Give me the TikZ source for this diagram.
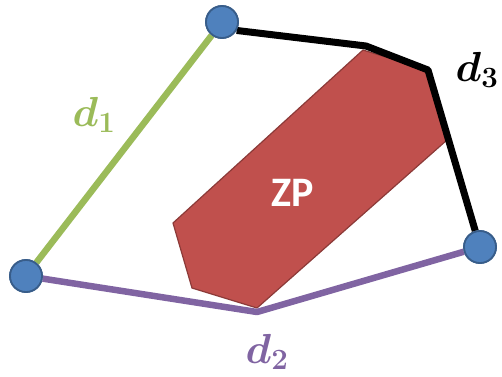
\RequirePackage{fix-cm}
\documentclass[tikz,border=0pt]{standalone}
\usepackage{fontspec}
\usepackage{amsmath,bm}
\setsansfont{Carlito}
\definecolor{zonered}{HTML}{C0504D}
\definecolor{zoneedge}{HTML}{8C3A38}
\definecolor{nodeblue}{HTML}{4F81BD}
\definecolor{nodeedge}{HTML}{385D8A}
\definecolor{sidegreen}{HTML}{9BBB59}
\definecolor{sidepurple}{HTML}{8064A2}

\begin{document}
\begin{tikzpicture}[
    x=1pt, y=-1pt,
    vertex/.style={
        circle,
        draw=nodeedge,
        fill=nodeblue,
        line width=1.8pt,
        minimum size=32pt,
        inner sep=0pt
    },
    side/.style={
        line width=6.5pt,
        line join=round
    },
    dlabel/.style={
        font=\fontsize{42}{44}\selectfont
    }
]
\useasboundingbox (0,0) rectangle (502,376);

% Zone
\filldraw[fill=zonered, draw=zoneedge, line width=1.2pt, line join=round]
    (173,223) -- (363,50) -- (428,70) -- (447,140) -- (257,308) -- (192,288) -- cycle;
\node[text=white, font=\sffamily\bfseries\fontsize{42}{42}\selectfont] (zp) at (293,193) {ZP};

% Vertices
\node[vertex] (top) at (222,22) {};
\node[vertex] (left) at (26,276) {};
\node[vertex] (right) at (480,247) {};
\coordinate (bot) at (257,312);
\coordinate (k1) at (366,46);
\coordinate (k2) at (428,70);

% Sides
\draw[side, sidegreen] (left) -- (top);
\draw[side, sidepurple] (left) -- (bot) -- (right);
\draw[side, black, line width=7pt] (top.-30) -- (k1) -- (k2) -- (right);

% Redraw vertices over sides
\foreach \v in {top,left,right} {
    \node[vertex] at (\v) {};
}

% Labels
\node[dlabel, text=sidegreen] (d1) at (94,115) {$\bm{d_1}$};
\node[dlabel, text=sidepurple] (d2) at (267,352) {$\bm{d_2}$};
\node[dlabel, text=black] (d3) at (477,70) {$\bm{d_3}$};

\end{tikzpicture}
\end{document}
